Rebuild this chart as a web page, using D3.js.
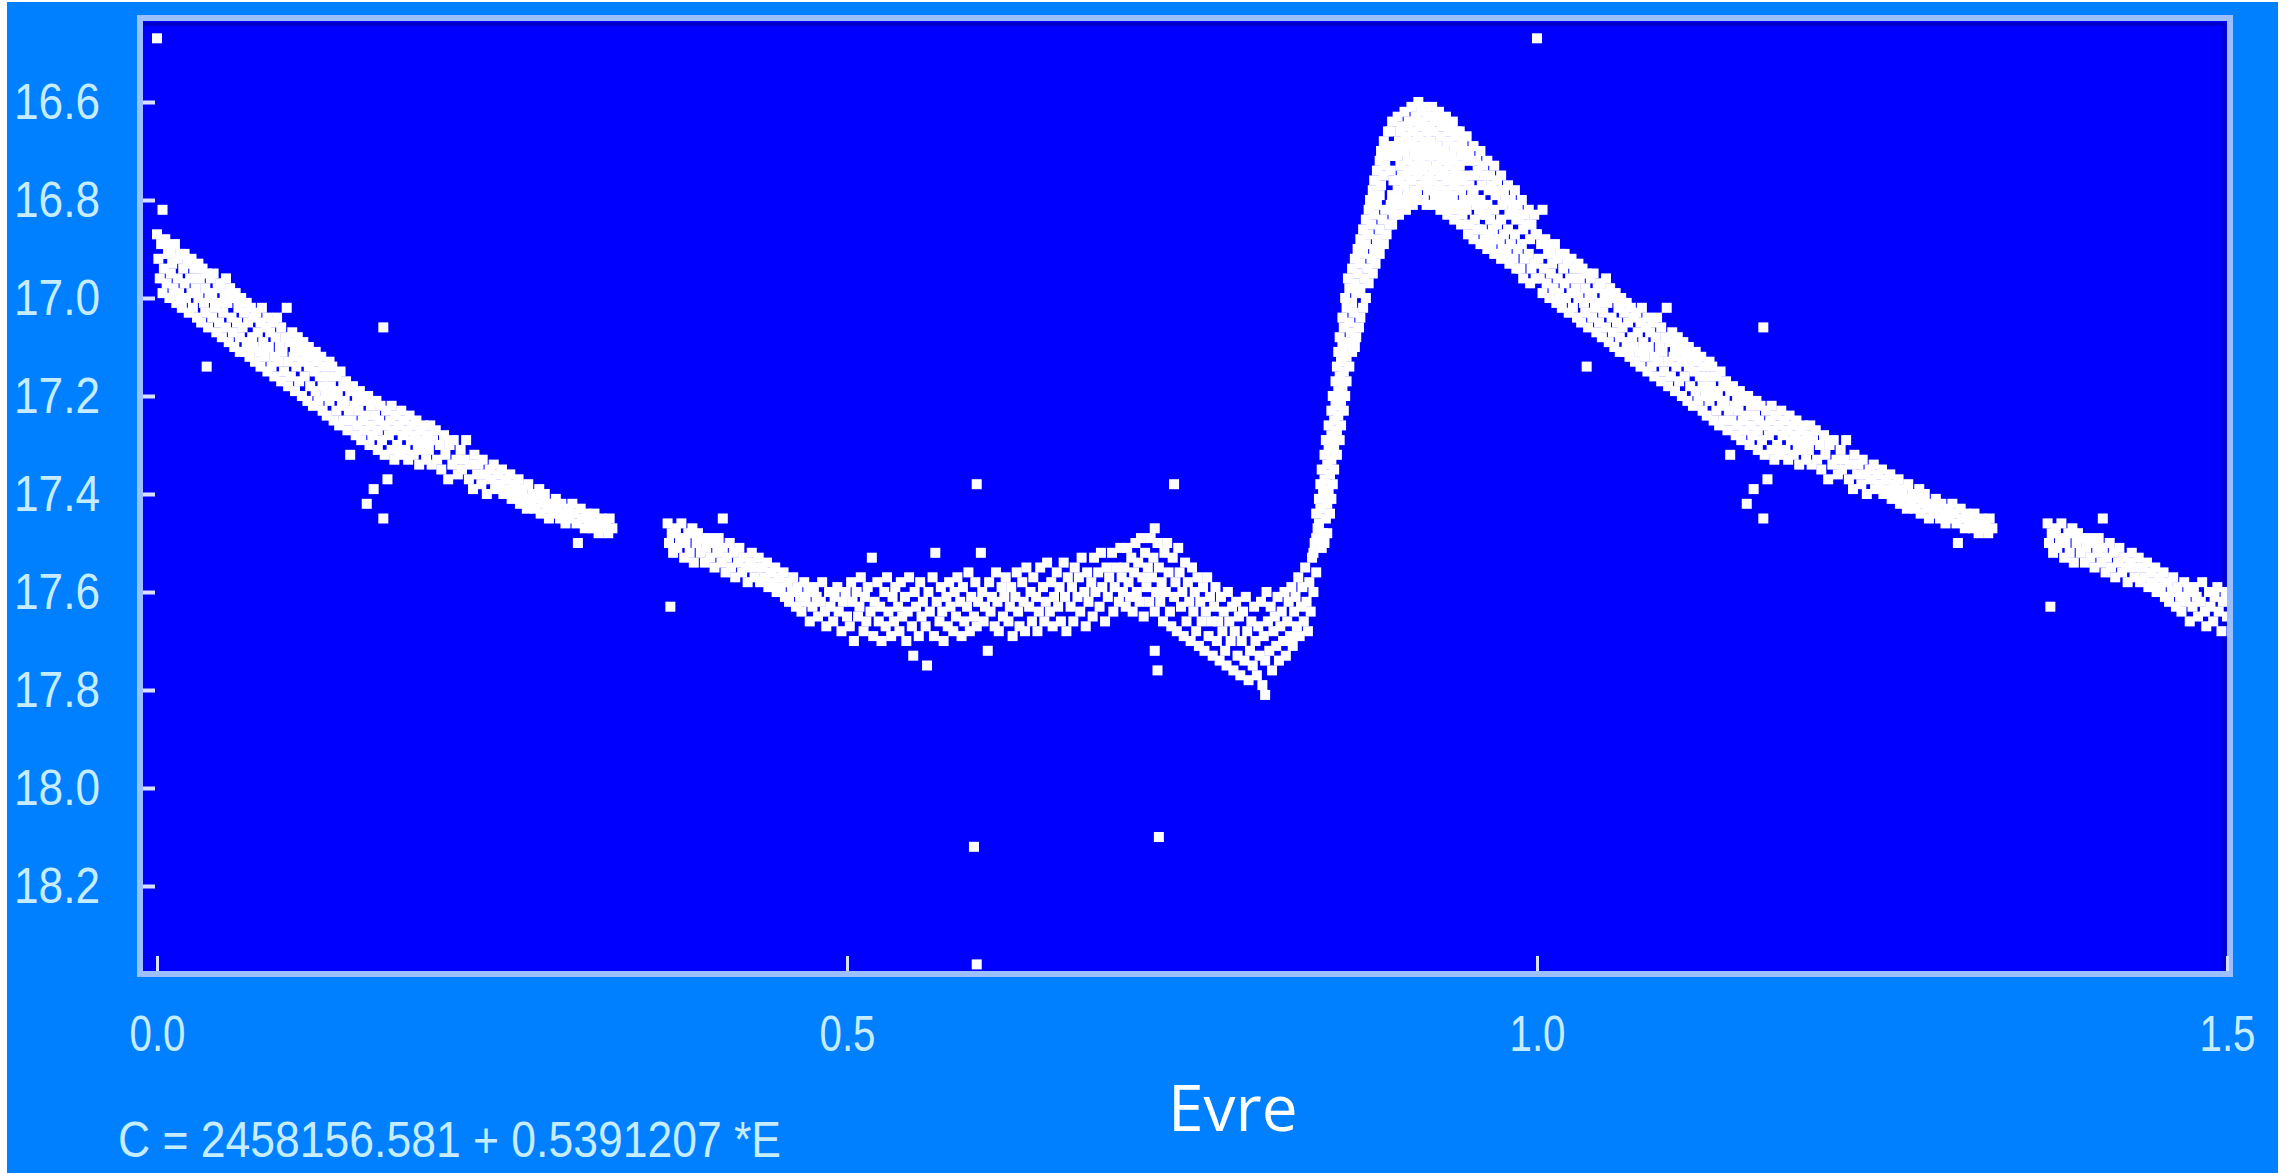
<!DOCTYPE html>
<html>
<head>
<meta charset="utf-8">
<script src="https://cdn.jsdelivr.net/npm/d3@7"></script>
<style>
body { margin: 0; background: #ffffff; }
</style>
</head>
<body>
<script>
const width = 2295;
const height = 1173;

//-----------------------------DATA------------------------------//
// [phase, magnitude], phase 0..1
// points with phase <= 0.5 are drawn again at phase + 1

const descBranch = [
[0.000,16.87],[0.001,16.92],[0.002,16.96],[0.003,16.89],[0.004,16.99],[0.005,16.94],
[0.006,16.88],[0.007,16.97],[0.008,16.91],[0.009,17.00],[0.010,16.95],[0.010,16.90],
[0.011,16.93],[0.012,16.98],[0.013,16.89],[0.014,17.01],[0.015,16.96],[0.015,16.92],
[0.016,16.99],[0.017,16.91],[0.018,17.02],[0.019,16.94],[0.020,16.97],[0.020,16.91],
[0.021,17.00],[0.022,16.93],[0.023,17.03],[0.024,16.96],[0.025,16.92],[0.025,16.99],
[0.026,17.02],[0.027,16.94],[0.028,16.98],[0.029,17.04],[0.030,16.93],[0.030,17.00],
[0.031,16.96],[0.032,17.05],[0.033,16.94],[0.034,17.01],[0.035,16.98],[0.035,17.03],
[0.036,16.95],[0.037,17.06],[0.038,17.00],[0.039,16.96],[0.040,17.04],[0.040,16.99],
[0.041,16.95],[0.042,17.02],[0.043,17.07],[0.044,16.98],[0.045,17.05],[0.045,17.01],
[0.046,16.97],[0.047,17.08],[0.048,17.03],[0.049,16.99],[0.050,17.06],[0.050,16.96],
[0.051,17.01],[0.052,17.09],[0.053,16.98],[0.054,17.04],[0.055,17.07],[0.055,17.00],
[0.056,17.10],[0.057,16.99],[0.058,17.05],[0.059,17.02],[0.060,17.08],[0.060,17.11],
[0.061,17.00],[0.062,17.06],[0.063,17.03],[0.064,17.11],[0.065,17.01],[0.065,17.09],
[0.066,17.05],[0.067,17.12],[0.068,17.02],[0.069,17.08],[0.070,17.04],[0.070,17.10],
[0.071,17.13],[0.072,17.03],[0.073,17.07],[0.074,17.11],[0.075,17.05],[0.075,17.14],
[0.076,17.02],[0.077,17.09],[0.078,17.12],[0.079,17.06],[0.080,17.15],[0.080,17.04],
[0.081,17.10],[0.082,17.07],[0.083,17.14],[0.084,17.05],[0.085,17.12],[0.085,17.16],
[0.086,17.08],[0.087,17.04],[0.088,17.13],[0.089,17.10],[0.090,17.17],[0.090,17.06],
[0.091,17.11],[0.092,17.15],[0.093,17.08],[0.094,17.02],[0.095,17.13],[0.095,17.18],
[0.096,17.09],[0.097,17.16],[0.098,17.07],[0.099,17.12],[0.100,17.19],[0.100,17.10],
[0.101,17.14],[0.102,17.08],[0.103,17.17],[0.104,17.11],[0.105,17.20],[0.105,17.13],
[0.106,17.09],[0.107,17.16],[0.108,17.12],[0.109,17.21],[0.110,17.14],[0.110,17.10],
[0.111,17.18],[0.112,17.12],[0.113,17.22],[0.114,17.15],[0.115,17.11],[0.115,17.19],
[0.116,17.13],[0.117,17.21],[0.118,17.16],[0.119,17.12],[0.120,17.23],[0.120,17.18],
[0.121,17.14],[0.122,17.20],[0.123,17.24],[0.124,17.16],[0.125,17.13],[0.125,17.21],
[0.126,17.18],[0.127,17.14],[0.128,17.25],[0.129,17.20],[0.130,17.16],[0.130,17.23],
[0.131,17.19],[0.132,17.26],[0.133,17.15],[0.134,17.22],[0.135,17.18],[0.135,17.25],
[0.136,17.21],[0.137,17.17],[0.138,17.27],[0.139,17.23],[0.140,17.19],[0.140,17.32],
[0.141,17.25],[0.142,17.18],[0.143,17.22],[0.144,17.28],[0.145,17.20],[0.145,17.26],
[0.146,17.23],[0.147,17.19],[0.148,17.29],[0.149,17.25],[0.150,17.21],[0.150,17.27],
[0.151,17.24],[0.152,17.42],[0.153,17.20],[0.154,17.30],[0.155,17.26],[0.155,17.22],
[0.156,17.28],[0.157,17.39],[0.158,17.24],[0.159,17.21],[0.160,17.31],[0.160,17.27],
[0.161,17.25],[0.162,17.22],[0.163,17.29],[0.164,17.45],[0.165,17.26],[0.165,17.32],
[0.166,17.23],[0.167,17.37],[0.168,17.28],[0.169,17.25],[0.170,17.31],[0.170,17.22],
[0.171,17.27],[0.172,17.33],[0.173,17.24],[0.174,17.30],[0.175,17.26],
[0.176,17.32],[0.177,17.23],[0.178,17.28],[0.179,17.25],[0.180,17.31],
[0.181,17.27],[0.182,17.33],[0.183,17.24],[0.184,17.29],[0.185,17.26],
[0.186,17.32],[0.187,17.28],[0.188,17.25],[0.189,17.30],[0.190,17.34],
[0.191,17.27],[0.192,17.31],[0.193,17.26],[0.194,17.29],[0.195,17.33],
[0.196,17.28],[0.197,17.31],[0.198,17.26],[0.199,17.34],[0.200,17.29],
[0.202,17.27],[0.203,17.33],[0.205,17.30],[0.206,17.35],[0.208,17.28],[0.209,17.32],
[0.211,17.37],[0.212,17.30],[0.214,17.34],[0.215,17.29],[0.217,17.33],[0.218,17.36],
[0.220,17.31],[0.221,17.35],[0.223,17.33],[0.224,17.29],[0.226,17.37],[0.227,17.34],
[0.229,17.39],[0.230,17.32],[0.232,17.36],[0.233,17.34],[0.235,17.38],[0.236,17.33],
[0.238,17.36],[0.239,17.40],[0.241,17.35],[0.242,17.37],[0.244,17.34],[0.245,17.39],
[0.247,17.36],[0.248,17.38],[0.250,17.35],[0.251,17.40],[0.253,17.37],[0.254,17.39],
[0.256,17.36],[0.257,17.41],[0.259,17.38],[0.260,17.40],[0.262,17.37],[0.263,17.42],
[0.265,17.39],[0.266,17.41],[0.268,17.43],[0.269,17.38],[0.271,17.42],[0.272,17.40],
[0.274,17.43],[0.275,17.41],[0.277,17.39],[0.278,17.44],[0.280,17.42],[0.281,17.40],
[0.283,17.43],[0.284,17.45],[0.286,17.42],[0.287,17.44],[0.289,17.41],[0.290,17.43],
[0.292,17.45],[0.293,17.42],[0.295,17.44],[0.296,17.46],[0.298,17.43],[0.299,17.45],
[0.301,17.42],[0.302,17.44],[0.304,17.46],[0.305,17.50],[0.307,17.43],[0.308,17.45],
[0.310,17.47],[0.311,17.44],[0.313,17.46],[0.314,17.45],[0.316,17.47],[0.317,17.44],
[0.319,17.46],[0.320,17.48],[0.322,17.45],[0.323,17.47],[0.325,17.46],[0.327,17.48],
[0.328,17.45],[0.330,17.47]
];

const shoulder = [
[0.370,17.46],[0.371,17.50],[0.373,17.48],[0.374,17.52],[0.376,17.47],[0.377,17.51],
[0.379,17.49],[0.380,17.46],[0.382,17.53],[0.383,17.50],[0.385,17.48],[0.386,17.52],
[0.388,17.47],[0.389,17.54],[0.391,17.50],[0.392,17.48],[0.394,17.52],[0.395,17.49],
[0.397,17.54],[0.398,17.51],[0.400,17.49],[0.401,17.53],[0.403,17.50],[0.404,17.55],
[0.406,17.52],[0.407,17.49],[0.409,17.54],[0.410,17.51],[0.412,17.56],[0.413,17.53],
[0.415,17.50],[0.416,17.55],[0.418,17.52],[0.419,17.57],[0.421,17.54],[0.422,17.51],
[0.424,17.56],[0.425,17.53],[0.427,17.55],[0.428,17.58],[0.430,17.54],[0.431,17.52],
[0.433,17.57],[0.434,17.55],[0.436,17.53],[0.437,17.58],[0.439,17.55],[0.440,17.57],
[0.442,17.54],[0.443,17.59],[0.445,17.56],[0.446,17.58],[0.448,17.55],[0.449,17.60],
[0.451,17.57],[0.452,17.59],[0.454,17.56],[0.455,17.61]
];

const minimum = [
[0.457,17.58],[0.458,17.62],[0.460,17.60],[0.461,17.57],[0.463,17.63],[0.464,17.59],
[0.466,17.61],[0.467,17.64],[0.469,17.58],[0.470,17.62],[0.472,17.60],[0.473,17.66],
[0.475,17.63],[0.476,17.59],[0.478,17.61],[0.479,17.65],[0.481,17.62],[0.482,17.58],
[0.484,17.64],[0.485,17.67],[0.487,17.60],[0.488,17.63],[0.490,17.66],[0.491,17.61],
[0.493,17.59],[0.494,17.64],[0.496,17.68],[0.497,17.62],[0.499,17.60],[0.500,17.65],
[0.502,17.67],[0.503,17.58],[0.504,17.62],[0.505,17.70],
[0.507,17.60],[0.508,17.65],[0.509,17.63],[0.510,17.57],
[0.512,17.68],[0.513,17.61],[0.514,17.66],[0.515,17.59],
[0.517,17.64],[0.518,17.53],[0.519,17.69],[0.520,17.62],
[0.522,17.58],[0.523,17.66],[0.524,17.63],[0.525,17.70],
[0.527,17.60],[0.528,17.67],[0.529,17.57],[0.530,17.64],
[0.532,17.69],[0.533,17.61],[0.534,17.66],[0.535,17.59],
[0.537,17.63],[0.538,17.68],[0.539,17.58],[0.540,17.65],
[0.542,17.61],[0.543,17.70],[0.544,17.64],[0.545,17.57],
[0.547,17.67],[0.548,17.73],[0.549,17.60],[0.550,17.63],
[0.552,17.69],[0.553,17.58],[0.554,17.65],[0.555,17.62],
[0.557,17.67],[0.558,17.75],[0.559,17.60],[0.560,17.64],
[0.562,17.57],[0.563,17.69],[0.564,17.52],[0.565,17.62],
[0.567,17.66],[0.568,17.59],[0.569,17.64],[0.570,17.70],
[0.572,17.61],[0.573,17.67],[0.574,17.58],[0.575,17.63],
[0.577,17.68],[0.578,17.60],[0.579,17.65],[0.580,17.57],
[0.582,17.62],[0.583,17.69],[0.584,17.59],[0.585,17.66],
[0.587,17.63],[0.588,17.56],[0.589,17.68],[0.590,17.61],
[0.592,17.65],[0.593,17.58],[0.594,17.67],[0.595,17.62],
[0.597,17.52],[0.598,17.60],[0.599,17.66],[0.600,17.63],
[0.602,17.72],[0.603,17.58],[0.604,17.64],[0.605,17.61],
[0.607,17.67],[0.608,17.56],[0.609,17.62],[0.610,17.68],
[0.612,17.59],[0.613,17.65],[0.614,17.61],[0.615,17.57],
[0.617,17.66],[0.618,17.63],[0.619,17.59],[0.620,17.69],
[0.622,17.61],[0.623,17.56],[0.624,17.64],[0.625,17.67],
[0.627,17.58],[0.628,17.62],[0.629,17.68],[0.630,17.55],
[0.632,17.63],[0.633,17.60],[0.634,17.66],[0.635,17.57],
[0.637,17.61],[0.638,17.68],[0.639,17.64],[0.640,17.55],
[0.642,17.59],[0.643,17.66],[0.644,17.62],[0.645,17.54],
[0.647,17.64],[0.648,17.58],[0.649,17.67],[0.650,17.61],
[0.652,17.56],[0.653,17.63],[0.654,17.59],[0.655,17.66],
[0.657,17.54],[0.658,17.61],[0.659,17.68],[0.660,17.57],
[0.662,17.63],[0.663,17.59],[0.664,17.66],[0.665,17.55],
[0.667,17.61],[0.668,17.57],[0.669,17.64],[0.670,17.53],
[0.672,17.60],[0.673,17.67],[0.674,17.56],[0.675,17.62],
[0.677,17.58],[0.678,17.65],[0.679,17.53],[0.680,17.60],
[0.682,17.56],[0.683,17.63],[0.684,17.52],[0.685,17.59],
[0.687,17.66],[0.688,17.55],[0.689,17.61],[0.690,17.57],
[0.692,17.52],[0.693,17.64],[0.694,17.59],[0.695,17.55],
[0.697,17.62],[0.698,17.51],[0.699,17.57],[0.700,17.60]
];

const bumpDip = [
[0.701,17.55],[0.702,17.63],[0.703,17.51],[0.704,17.58],[0.705,17.61],
[0.706,17.53],[0.707,17.64],[0.708,17.56],[0.709,17.50],[0.710,17.60],
[0.711,17.54],[0.712,17.62],[0.713,17.49],[0.714,17.57],[0.715,17.65],
[0.716,17.52],[0.717,17.59],[0.718,17.55],[0.719,17.62],[0.720,17.49],
[0.721,17.57],[0.722,17.53],[0.723,17.64],[0.724,17.60],[0.725,17.50],
[0.726,17.55],[0.727,17.62],[0.728,17.58],[0.729,17.66],[0.730,17.52],
[0.731,17.60],[0.732,17.50],[0.733,17.56],[0.734,17.64],[0.735,17.67],
[0.736,17.53],[0.737,17.61],[0.738,17.58],[0.739,17.68],[0.740,17.51],
[0.741,17.56],[0.742,17.63],[0.743,17.60],[0.744,17.69],[0.745,17.54],
[0.746,17.66],[0.747,17.58],[0.748,17.62],[0.749,17.70],[0.750,17.55],
[0.751,17.64],[0.752,17.60],[0.753,17.68],[0.754,17.57],[0.755,17.71],
[0.756,17.62],[0.757,17.66],[0.758,17.59],[0.759,17.72],[0.760,17.64],
[0.761,17.57],[0.762,17.69],[0.763,17.61],[0.764,17.66],[0.765,17.73],
[0.766,17.63],[0.767,17.59],[0.768,17.70],[0.769,17.66],[0.770,17.74],
[0.771,17.61],[0.772,17.68],[0.773,17.64],[0.774,17.72],[0.775,17.75],
[0.776,17.60],[0.777,17.66],[0.778,17.70],[0.779,17.63],[0.780,17.76],
[0.781,17.68],[0.782,17.62],[0.783,17.73],[0.784,17.65],[0.785,17.77],
[0.786,17.70],[0.787,17.64],[0.788,17.74],[0.789,17.61],[0.790,17.68],
[0.791,17.78],[0.792,17.72],[0.793,17.66],[0.794,17.75],[0.795,17.63],
[0.796,17.70],[0.797,17.77],[0.798,17.67],[0.799,17.73],[0.800,17.62],
[0.801,17.79],[0.802,17.69],[0.803,17.74],[0.804,17.60],[0.805,17.66],
[0.806,17.72],[0.807,17.63],[0.808,17.76],[0.809,17.68],[0.810,17.65],
[0.811,17.71],[0.812,17.61],[0.813,17.74],[0.814,17.67],[0.815,17.64],
[0.816,17.70],[0.817,17.60],[0.818,17.73],[0.819,17.66],[0.820,17.62],
[0.821,17.69],[0.822,17.59],[0.823,17.71],[0.824,17.64],[0.825,17.61],
[0.826,17.67],[0.827,17.57],[0.828,17.69],[0.829,17.63],[0.830,17.59],
[0.831,17.66],[0.832,17.55],[0.833,17.62],[0.834,17.68],[0.835,17.58],
[0.836,17.64],[0.837,17.53],[0.838,17.60],[0.839,17.50],[0.840,17.56]
];

const rise = [
[0.838,17.52],[0.844,17.51],[0.839,17.50],[0.846,17.50],[0.840,17.49],[0.845,17.48],
[0.841,17.47],[0.848,17.48],[0.842,17.46],[0.847,17.45],[0.840,17.44],[0.850,17.44],
[0.843,17.43],[0.848,17.42],[0.842,17.41],[0.851,17.41],[0.845,17.40],[0.849,17.39],
[0.843,17.38],[0.852,17.38],[0.846,17.37],[0.850,17.36],[0.844,17.35],[0.853,17.35],
[0.848,17.34],[0.851,17.33],[0.846,17.32],[0.855,17.32],[0.849,17.31],[0.853,17.30],
[0.847,17.29],[0.857,17.29],[0.851,17.28],[0.855,17.27],[0.849,17.26],[0.858,17.26],
[0.853,17.25],[0.856,17.24],[0.851,17.23],[0.860,17.23],[0.854,17.22],[0.858,17.21],
[0.852,17.20],[0.861,17.20],[0.856,17.19],[0.859,17.18],[0.854,17.17],[0.862,17.17],
[0.857,17.16],[0.860,17.15],[0.855,17.14],[0.864,17.14],[0.858,17.13],[0.862,17.12],
[0.856,17.11],[0.866,17.11],[0.859,17.10],[0.863,17.09],[0.868,17.10],
[0.857,17.08],[0.865,17.07],[0.869,17.08],[0.860,17.06],[0.864,17.05],[0.871,17.06],
[0.859,17.04],[0.867,17.03],[0.872,17.04],[0.862,17.02],[0.866,17.01],[0.874,17.02],
[0.861,17.00],[0.869,16.99],[0.876,17.00],
[0.864,16.98],[0.868,16.97],[0.872,16.98],[0.878,16.97],
[0.863,16.96],[0.870,16.95],[0.875,16.96],[0.881,16.95],
[0.866,16.94],[0.872,16.93],[0.877,16.94],[0.883,16.93],
[0.868,16.92],[0.874,16.91],[0.880,16.92],[0.886,16.91],
[0.870,16.90],[0.876,16.89],[0.882,16.90],[0.889,16.89],
[0.872,16.88],[0.878,16.87],[0.884,16.88],[0.891,16.87],
[0.874,16.86],[0.880,16.85],[0.886,16.86],[0.893,16.85],
[0.876,16.84],[0.882,16.83],[0.888,16.84],
[0.878,16.82],[0.884,16.81],[0.890,16.82],
[0.879,16.80],[0.886,16.79],[0.881,16.78],[0.887,16.77],
[0.882,16.76],[0.889,16.75],[0.884,16.74],[0.890,16.73],
[0.886,16.72],[0.892,16.71],[0.887,16.70],[0.893,16.69],
[0.889,16.68],[0.892,16.66],[0.895,16.64]
];

const peakFall = [
[0.894,16.66],[0.895,16.69],[0.896,16.71],[0.894,16.74],[0.896,16.76],[0.895,16.79],[0.894,16.81],[0.896,16.83],[0.895,16.85],
[0.899,16.63],[0.901,16.66],[0.900,16.68],[0.899,16.71],[0.901,16.73],[0.900,16.76],[0.899,16.78],[0.901,16.80],[0.900,16.83],
[0.902,16.65],[0.898,16.70],[0.902,16.75],[0.898,16.81],
[0.904,16.62],[0.906,16.65],[0.905,16.67],[0.904,16.70],[0.906,16.72],[0.905,16.75],[0.904,16.77],[0.906,16.79],[0.905,16.82],
[0.907,16.64],[0.903,16.69],[0.907,16.74],[0.903,16.80],
[0.909,16.61],[0.911,16.64],[0.910,16.66],[0.909,16.69],[0.911,16.71],[0.910,16.74],[0.909,16.76],[0.911,16.78],[0.910,16.81],
[0.912,16.63],[0.908,16.68],[0.912,16.73],[0.908,16.79],
[0.914,16.60],[0.916,16.62],[0.915,16.65],[0.914,16.67],[0.916,16.70],[0.915,16.72],[0.914,16.75],[0.916,16.77],[0.915,16.80],
[0.917,16.64],[0.913,16.69],[0.917,16.74],[0.913,16.79],
[0.919,16.61],[0.921,16.63],[0.920,16.66],[0.919,16.68],[0.921,16.71],[0.920,16.73],[0.919,16.76],[0.921,16.78],[0.920,16.81],
[0.922,16.65],[0.918,16.70],[0.922,16.75],[0.918,16.80],
[0.924,16.61],[0.926,16.64],[0.925,16.66],[0.924,16.69],[0.926,16.71],[0.925,16.74],[0.924,16.76],[0.926,16.79],[0.925,16.81],
[0.927,16.63],[0.923,16.68],[0.927,16.73],[0.923,16.78],
[0.929,16.62],[0.931,16.65],[0.930,16.67],[0.929,16.70],[0.931,16.72],[0.930,16.75],[0.929,16.77],[0.931,16.80],[0.930,16.82],
[0.932,16.64],[0.928,16.69],[0.932,16.74],[0.928,16.79],
[0.934,16.63],[0.936,16.66],[0.935,16.68],[0.934,16.71],[0.936,16.73],[0.935,16.76],[0.934,16.78],[0.936,16.81],[0.935,16.83],
[0.937,16.65],[0.933,16.70],[0.937,16.75],[0.933,16.80],
[0.939,16.64],[0.941,16.67],[0.940,16.69],[0.939,16.72],[0.941,16.74],[0.940,16.77],[0.939,16.79],[0.941,16.82],[0.940,16.84],
[0.942,16.66],[0.938,16.71],[0.942,16.76],[0.938,16.81],
[0.944,16.66],[0.946,16.68],[0.945,16.71],[0.944,16.73],[0.946,16.76],[0.945,16.78],[0.944,16.81],[0.946,16.83],[0.945,16.85],
[0.947,16.70],[0.943,16.75],[0.947,16.80],
[0.949,16.67],[0.951,16.70],[0.950,16.72],[0.949,16.75],[0.951,16.77],[0.950,16.80],[0.949,16.82],[0.951,16.85],[0.950,16.87],
[0.954,16.69],[0.956,16.72],[0.955,16.75],[0.954,16.78],[0.956,16.81],[0.955,16.84],[0.954,16.88],
[0.957,16.74],[0.953,16.79],[0.957,16.86],
[0.959,16.70],[0.961,16.73],[0.960,16.77],[0.959,16.80],[0.961,16.83],[0.960,16.86],[0.959,16.89],
[0.962,16.75],[0.958,16.82],[0.962,16.88],
[0.964,16.72],[0.966,16.75],[0.965,16.78],[0.964,16.81],[0.966,16.84],[0.965,16.87],[0.964,16.90],
[0.967,16.77],[0.963,16.83],[0.967,16.89],
[0.969,16.73],[0.971,16.76],[0.970,16.79],[0.969,16.82],[0.971,16.85],[0.970,16.88],[0.969,16.91],
[0.972,16.78],[0.968,16.86],
[0.974,16.75],[0.976,16.78],[0.975,16.81],[0.974,16.84],[0.976,16.87],[0.975,16.90],[0.974,16.92],
[0.977,16.80],[0.973,16.88],
[0.979,16.77],[0.981,16.80],[0.980,16.83],[0.979,16.86],[0.981,16.89],[0.980,16.93],
[0.982,16.82],[0.978,16.91],
[0.984,16.78],[0.986,16.81],[0.985,16.84],[0.984,16.87],[0.986,16.90],[0.985,16.94],
[0.987,16.83],[0.983,16.92],
[0.989,16.80],[0.991,16.83],[0.990,16.86],[0.989,16.89],[0.991,16.92],[0.990,16.96],
[0.992,16.85],[0.988,16.94],
[0.994,16.82],[0.996,16.85],[0.995,16.88],[0.994,16.91],[0.996,16.94],[0.995,16.97],
[0.998,16.83],[0.999,16.87],[0.998,16.93],[0.999,16.96]
];

const outliers = [
[0.000,16.47],[0.004,16.82],[0.036,17.14],[0.164,17.06],[0.372,17.63],[0.410,17.45],
[0.592,18.12],[0.594,17.38],[0.594,18.36],[0.723,17.47],[0.723,17.72],[0.725,17.76],
[0.726,18.10],[0.737,17.38],[0.803,17.81]
];

const xTicks = [0, 0.5, 1.0, 1.5];
const yTicks = [16.6, 16.8, 17.0, 17.2, 17.4, 17.6, 17.8, 18.0, 18.2];
const xTitle = "Evre";
const caption = "C = 2458156.581 + 0.5391207 *E";

const labelFont = "'Liberation Sans Narrow', 'Liberation Sans', Arial, sans-serif";
const labelColor = "#c6ecff";

//we are appending SVG
const svg = d3.select("body").append("svg").attr("width", width)
	.attr("height", height);

// outer panel
svg.append("rect").attr("x", 7).attr("y", 2).attr("width", 2271)
	.attr("height", 1171).attr("fill", "#0080ff");

//----------------------------SCALES-----------------------------//
const xScale = d3.scaleLinear().domain([0, 1.5]).range([157, 2227]);
const yScale = d3.scaleLinear().domain([16.6, 18.2]).range([102, 886]);

// plot area
svg.append("rect").attr("x", 140).attr("y", 18).attr("width", 2090)
	.attr("height", 956).attr("fill", "#0000ff");
// dark inner bevel on top and right
svg.append("path").attr("d", "M143,24 H2224 V971").attr("fill", "none")
	.attr("stroke", "#0000c0").attr("stroke-width", 3);

//----------------------------POINTS------------------------------//
const allPoints = [].concat(descBranch, shoulder, minimum, bumpDip, rise,
		peakFall, outliers);
const plotted = [];
allPoints.forEach(function(d) {
	plotted.push(d);
	if (d[0] <= 0.5) plotted.push([d[0] + 1, d[1]]);
});

const sq = 10;
svg.append("g").selectAll("rect").data(plotted).enter().append("rect")
	.attr("x", function(d) { return xScale(d[0]) - sq / 2; })
	.attr("y", function(d) { return yScale(d[1]) - sq / 2; })
	.attr("width", sq).attr("height", sq).attr("fill", "#ffffff");

// frame
svg.append("rect").attr("x", 140).attr("y", 18).attr("width", 2090)
	.attr("height", 956).attr("fill", "none").attr("stroke", "#9cc0ff")
	.attr("stroke-width", 6);

//-----------------------------AXES------------------------------//
const yaxis = d3.axisLeft(yScale).tickValues(yTicks)
	.tickFormat(d3.format(".1f")).tickSizeInner(-12).tickSizeOuter(0)
	.tickPadding(43);
const gy = svg.append("g").attr("transform", "translate(143,0)").call(yaxis);
gy.select(".domain").remove();
gy.selectAll("line").attr("stroke", "#d8e0ff").attr("stroke-width", 4);
gy.selectAll("text").attr("fill", labelColor).style("font-family", labelFont)
	.style("font-size", "50px").attr("textLength", 86)
	.attr("lengthAdjust", "spacingAndGlyphs");

const xaxis = d3.axisBottom(xScale).tickValues(xTicks)
	.tickFormat(d3.format(".1f")).tickSizeInner(-15).tickSizeOuter(0)
	.tickPadding(44);
const gx = svg.append("g").attr("transform", "translate(0,971)").call(xaxis);
gx.select(".domain").remove();
gx.selectAll("line").attr("stroke", "#d8e0ff").attr("stroke-width", 3);
gx.selectAll("text").attr("fill", labelColor).style("font-family", labelFont)
	.style("font-size", "50px").attr("textLength", 56)
	.attr("lengthAdjust", "spacingAndGlyphs");

//-----------------------------TEXT------------------------------//
svg.append("text").attr("x", 118).attr("y", 1157).text(caption)
	.attr("fill", labelColor).style("font-family", labelFont)
	.style("font-size", "50px").attr("textLength", 663)
	.attr("lengthAdjust", "spacingAndGlyphs");

svg.append("text").attr("x", 1168).attr("y", 1131).text(xTitle)
	.attr("fill", "#ffffff").style("font-family", "'Open Sans', 'Noto Sans', sans-serif")
	.style("font-size", "64px");
</script>
</body>
</html>
